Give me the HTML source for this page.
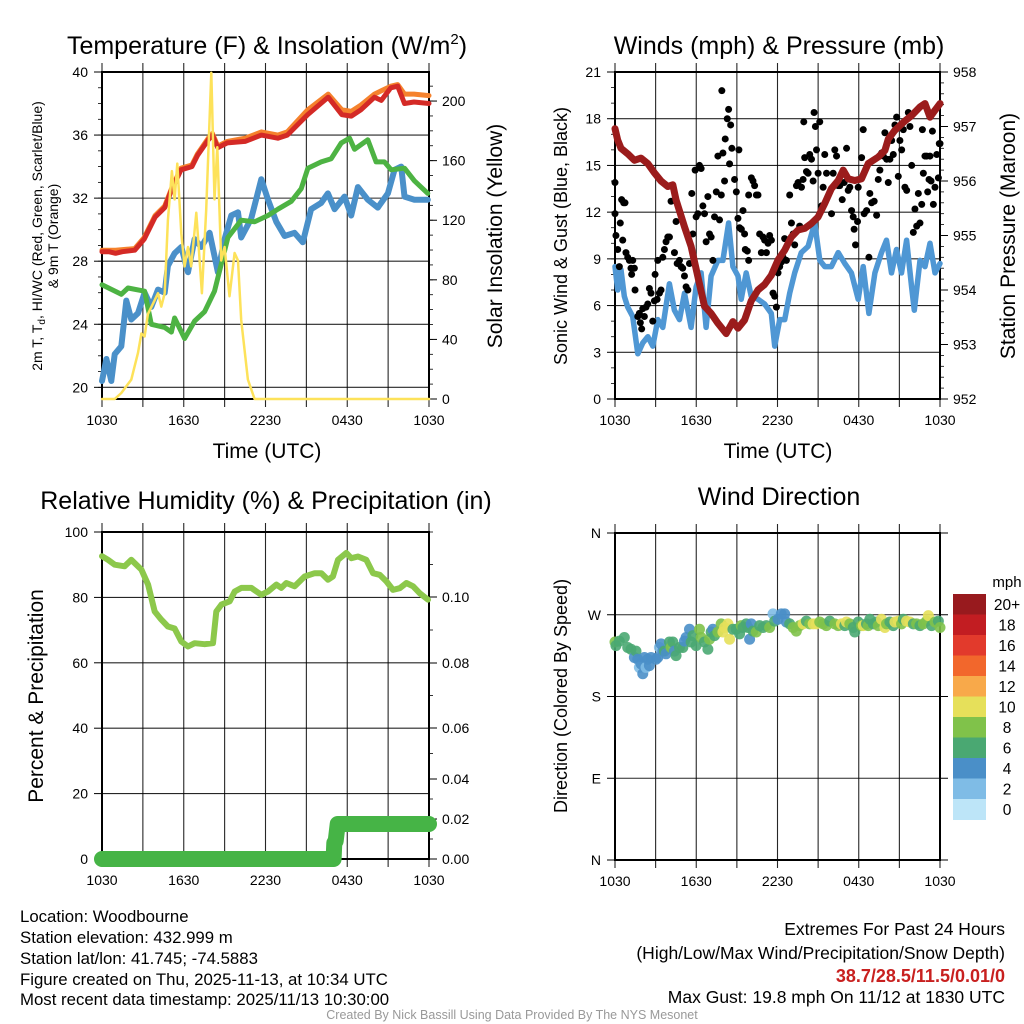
<!DOCTYPE html>
<html><head><meta charset="utf-8"><style>
html,body{margin:0;padding:0;background:#fff;}
svg{display:block;font-family:"Liberation Sans",Arial,sans-serif;}
</style></head><body>
<svg id="root" width="1024" height="1024" viewBox="0 0 1024 1024" xmlns="http://www.w3.org/2000/svg">
<rect width="1024" height="1024" fill="#fff"/>
<g id="p1"></g>
<g id="p2"></g>
<g id="p3"></g>
<g id="p4"></g>

<text x="267" y="54" font-size="25" text-anchor="middle">Temperature (F) &amp; Insolation (W/m<tspan dy="-10" font-size="15">2</tspan><tspan dy="10">)</tspan></text>
<text x="779" y="54" font-size="25" text-anchor="middle">Winds (mph) &amp; Pressure (mb)</text>
<text x="266" y="509" font-size="25" text-anchor="middle">Relative Humidity (%) &amp; Precipitation (in)</text>
<text x="779" y="505" font-size="25" text-anchor="middle">Wind Direction</text>

<text x="267" y="458" font-size="21" text-anchor="middle">Time (UTC)</text>
<text x="778" y="458" font-size="21" text-anchor="middle">Time (UTC)</text>

<text transform="translate(42,236) rotate(-90)" font-size="14" text-anchor="middle">2m T, T<tspan dy="3" font-size="10">d</tspan><tspan dy="-3">, HI/WC (Red, Green, Scarlet/Blue)</tspan></text>
<text transform="translate(58,236) rotate(-90)" font-size="14" text-anchor="middle">&amp; 9m T (Orange)</text>
<text transform="translate(502,236) rotate(-90)" font-size="21" text-anchor="middle">Solar Insolation (Yellow)</text>
<text transform="translate(567,236) rotate(-90)" font-size="18" text-anchor="middle">Sonic Wind &amp; Gust (Blue, Black)</text>
<text transform="translate(1015,236) rotate(-90)" font-size="21" text-anchor="middle">Station Pressure (Maroon)</text>
<text transform="translate(43,696) rotate(-90)" font-size="21" text-anchor="middle">Percent &amp; Precipitation</text>
<text transform="translate(567,696) rotate(-90)" font-size="18" text-anchor="middle">Direction (Colored By Speed)</text>

<g font-size="16.8">
<text x="20" y="922">Location: Woodbourne</text>
<text x="20" y="943">Station elevation: 432.999 m</text>
<text x="20" y="964">Station lat/lon: 41.745; -74.5883</text>
<text x="20" y="985">Figure created on Thu, 2025-11-13, at 10:34 UTC</text>
<text x="20" y="1005">Most recent data timestamp: 2025/11/13 10:30:00</text>
</g>
<g font-size="17.5" text-anchor="end">
<text x="1005" y="935">Extremes For Past 24 Hours</text>
<text x="1005" y="959">(High/Low/Max Wind/Precipitation/Snow Depth)</text>
<text x="1005" y="982" fill="#c8201f" font-weight="bold" font-size="18">38.7/28.5/11.5/0.01/0</text>
<text x="1005" y="1003">Max Gust: 19.8 mph On 11/12 at 1830 UTC</text>
</g>
<text x="512" y="1019" font-size="12.5" fill="#999" text-anchor="middle">Created By Nick Bassill Using Data Provided By The NYS Mesonet</text>
</svg>
<script>
// ---------- data ----------
const xTickLabels = ["1030","1630","2230","0430","1030"];
const xTickHours = [0,6,12,18,24];
const tempTicks = [20,24,28,32,36,40];
const solarTicks = [0,40,80,120,160,200];
const windTicks = [0,3,6,9,12,15,18,21];
const presTicks = [952,953,954,955,956,957,958];
const rhTicks = [0,20,40,60,80,100];
const precipTicks = [0,0.02,0.04,0.06,0.08,0.10];
const dirTicks = [0,90,180,270,360];
const dirLabels = ["N","E","S","W","N"];
const cbLabels = ["0","2","4","6","8","10","12","14","16","18","20+"];
const cbColors = ["#bde5f8","#7fbce6","#4a8fc8","#4aa872","#80c24a","#e6e05a","#f8a94a","#f2672c","#e23a2c","#c21d22","#981a1e"];

const redT = [0,0.5,1,1.5,2.4,3.1,3.9,4.6,5.1,5.8,6.6,7.0,7.8,8.1,8.5,9.2,10.5,11.7,12.9,13.6,15.1,16.6,17.6,18.3,19.0,20.0,20.5,21.2,21.7,22.2,22.9,24];
const redV = [28.6,28.6,28.5,28.6,28.7,29.4,30.8,31.4,32.5,33.8,34.0,34.7,35.7,36.0,35.2,35.5,35.6,36.0,35.8,36.0,37.3,38.4,37.3,37.2,37.6,38.4,38.2,39.0,39.1,38.0,38.1,38.0];
const orangeT = [0,1,2.4,3.1,3.9,4.6,5.1,5.8,6.6,7.0,7.8,8.1,8.5,9.2,10.5,11.7,12.9,13.6,15.1,16.6,17.6,18.3,19.0,20.0,21.2,21.7,22.2,22.9,24];
const orangeV = [28.7,28.7,28.8,29.5,30.9,31.5,32.6,33.9,34.1,34.8,35.8,36.1,35.3,35.6,35.8,36.2,36.0,36.2,37.6,38.6,37.6,37.5,37.9,38.6,39.1,39.2,38.6,38.6,38.5];
const greenT = [0,1.42,1.91,3.13,3.62,4.6,5.09,5.33,6.06,6.8,7.53,8.26,8.75,9.24,10.22,11.2,12.18,12.91,13.89,14.62,15.11,16.09,16.82,17.56,18.17,18.53,19.51,20.12,20.73,21.22,22.2,22.93,23.91];
const greenV = [26.5,25.9,26.3,26.1,24.0,23.8,23.5,24.4,23.1,24.2,24.8,26.1,27.8,29.5,30.6,30.5,30.9,31.3,31.8,32.6,33.9,34.3,34.5,35.5,35.8,35.1,35.7,34.3,34.3,33.8,33.9,33.1,32.3];
const blueT = [0,0.32,0.68,0.93,1.42,1.78,2.15,2.64,3.13,3.62,4.11,4.6,4.84,5.33,5.82,6.31,6.8,7.29,7.9,8.51,9.0,9.49,9.98,10.22,10.95,11.69,12.18,12.79,13.4,14.13,14.74,15.35,16.09,16.58,17.07,17.8,18.29,18.78,19.51,20.24,20.98,21.47,21.96,22.2,22.93,23.91];
const blueV = [20.4,21.8,20.4,22.1,22.6,25.5,24.3,24.7,26.0,25.1,26.2,26.0,27.7,28.5,28.9,27.3,29.4,28.9,29.8,27.3,29.4,30.9,31.1,29.5,30.7,33.2,31.9,30.5,29.6,29.8,29.2,31.3,31.7,32.3,31.3,32.1,30.9,32.7,31.9,31.4,32.3,33.8,34.0,32.1,31.9,31.9];
const solarT = [0,0.93,1.42,2.15,2.64,2.89,3.13,3.37,3.74,4.11,4.35,4.6,4.84,5.13,5.33,5.53,5.82,6.06,6.31,6.55,6.92,7.33,7.65,8.02,8.26,8.46,8.75,9.0,9.36,9.73,9.98,10.22,10.71,11.2,24];
const solarV = [0,0,4,13,31,44,42,57,64,71,62,71,120,153,134,158,111,89,102,89,125,71,127,219,134,169,93,102,69,98,93,53,13,0,0];

const presT = [0,0.2,0.44,0.94,1.43,1.92,2.42,2.91,3.4,3.9,4.27,4.51,5.13,5.62,6.12,6.61,7.1,7.6,8.21,8.71,9.08,9.57,10.06,10.56,11.05,11.54,12.04,12.53,13.02,13.52,14.01,14.5,15.0,15.49,15.98,16.48,16.85,17.22,17.71,18.2,18.7,19.44,19.93,20.18,20.67,21.41,21.9,22.52,22.89,23.26,23.63,24];
const presV = [956.96,956.75,956.6,956.5,956.38,956.42,956.32,956.15,956.0,955.9,955.93,955.65,955.16,954.8,954.24,953.7,953.57,953.39,953.2,953.42,953.3,953.45,953.8,954.0,954.1,954.27,954.55,954.73,954.97,955.1,955.13,955.22,955.34,955.59,955.86,956.01,956.2,956.04,956.01,956.04,956.32,956.44,956.56,956.77,956.93,957.1,957.2,957.36,957.42,957.17,957.3,957.42];
const windT = [0,0.2,0.44,0.69,0.94,1.31,1.68,2.05,2.42,2.79,3.16,3.53,4.02,4.39,4.76,5.13,5.62,5.99,6.36,6.73,7.1,7.6,7.97,8.39,8.71,9.08,9.32,9.69,10.06,10.56,11.05,11.54,11.79,12.16,12.53,12.9,13.27,13.76,14.26,14.75,15.12,15.49,15.98,16.48,16.97,17.46,17.96,18.33,18.75,19.19,19.68,20.05,20.42,20.79,21.16,21.53,21.9,22.1,22.52,22.89,23.26,23.63,24];
const windV = [8.5,7.0,8.3,6.6,5.9,5.3,2.9,3.6,4.0,3.4,5.1,4.6,7.4,5.7,5.1,6.8,4.6,7.2,8.1,4.6,7.9,8.9,8.9,11.3,8.5,7.9,6.4,8.1,6.6,6.4,6.1,5.5,3.4,5.1,5.1,6.8,8.1,9.4,9.8,11.3,8.9,8.5,8.5,9.4,8.7,8.1,6.4,8.5,5.5,8.1,9.4,10.2,8.1,9.6,8.1,10.2,7.2,5.7,8.9,8.5,10.0,8.1,8.7];
const gustT = [0,0,0.07,0.2,0.32,0.39,0.49,0.64,0.74,0.57,0.81,0.94,1.06,1.18,1.31,1.23,1.43,1.48,1.68,1.8,1.87,1.97,2.05,2.17,2.29,2.42,2.54,2.66,2.79,2.91,2.96,3.11,3.16,3.28,3.4,3.53,3.65,3.77,3.9,4.02,4.14,4.39,4.51,4.59,4.76,4.88,5.0,5.13,5.25,5.38,5.5,5.67,5.75,5.92,5.99,6.12,6.24,6.36,6.49,6.61,6.73,6.86,6.98,7.1,7.23,7.35,7.48,7.6,7.72,7.85,7.97,7.89,8.09,8.14,8.29,8.39,8.46,8.54,8.63,8.83,8.96,9.08,9.15,9.2,9.33,9.45,9.57,9.62,9.77,9.87,9.87,10.07,10.19,10.31,10.44,10.56,10.68,10.81,10.93,11.05,11.18,11.3,11.42,11.55,11.67,11.79,11.92,12.04,12.16,12.29,12.41,12.53,12.66,12.9,13.03,13.15,13.27,13.4,13.52,13.64,13.77,13.89,13.94,14.01,14.14,14.26,14.38,14.51,14.63,14.7,14.8,14.88,15.0,15.12,15.25,15.37,15.49,15.62,15.99,16.11,16.23,16.36,16.48,16.6,16.78,16.92,17.1,17.22,17.34,17.47,17.59,17.66,17.76,17.91,17.96,18.21,18.33,18.4,18.58,18.75,18.82,18.95,19.14,19.32,19.44,19.56,19.69,19.81,19.93,20.06,20.18,20.3,20.43,20.55,20.67,20.8,20.92,21.04,21.17,21.29,21.41,21.54,21.66,21.78,21.91,22.03,22.15,22.28,22.4,22.52,22.65,22.7,22.77,22.89,23.02,23.09,23.19,23.26,23.34,23.44,23.51,23.63,23.76,23.88,23.95,24];
const gustV = [13.9,11.9,10.5,9.6,8.5,11.3,12.8,12.6,12.6,10.2,9.4,9.1,8.9,8.4,8.9,8.0,8.4,7.0,5.3,5.5,4.9,4.5,5.8,5.3,5.9,6.1,7.1,6.8,5.0,6.3,8.0,6.4,8.9,6.8,7.0,9.1,9.6,10.1,10.4,10.4,12.7,9.4,11.4,8.7,8.9,8.5,8.4,7.9,7.2,7.0,8.7,13.2,10.6,14.7,11.7,11.9,15.0,14.8,12.4,11.9,10.1,13.0,10.6,10.4,8.9,11.7,13.3,15.6,11.5,13.1,15.8,19.8,14.0,16.7,18.0,18.6,15.1,17.6,16.1,14.1,13.3,11.6,16.0,11.0,10.9,12.1,10.6,9.6,9.5,8.9,13.1,14.2,14.0,13.7,13.1,13.1,10.6,9.4,10.4,10.2,9.4,10.0,10.5,10.2,6.8,6.6,5.9,8.1,8.5,8.8,9.1,10.3,8.9,13.1,11.3,10.6,9.9,13.7,13.9,11.1,13.6,14.1,17.8,15.5,14.6,14.5,15.7,15.4,14.0,18.4,17.5,16.0,14.5,17.8,12.4,13.6,15.7,14.5,11.9,14.5,16.0,15.6,13.7,13.7,12.8,13.9,16.1,13.4,13.6,12.1,11.7,10.9,9.9,11.4,13.6,15.5,17.3,11.9,12.1,9.1,13.2,12.6,12.7,11.8,14.1,14.7,15.8,15.6,17.1,15.4,13.9,15.4,16.6,15.7,17.6,18.1,14.3,16.6,16.0,17.3,13.6,13.4,18.4,17.5,15.0,10.7,12.2,11.1,13.2,11.3,12.5,17.3,14.5,15.6,15.6,13.3,14.1,15.6,14.0,17.2,12.5,13.6,15.7,14.2,16.4,16.4];

const rhT = [0,0.44,0.93,1.66,2.15,2.89,3.38,3.87,4.35,4.84,5.33,5.82,6.31,6.8,7.54,8.15,8.39,8.76,9.37,9.74,10.23,10.96,11.69,12.18,12.8,13.16,13.53,14.14,14.87,15.61,16.1,16.59,16.95,17.32,17.93,18.3,18.79,19.4,19.89,20.38,20.87,21.36,21.85,22.34,22.83,23.31,23.93];
const rhV = [92.6,91.5,90,89.5,91.5,88.5,83.9,75.7,73.2,71.1,70.5,66.5,65,66,65.7,66,75.7,77.8,78.8,81.8,82.9,82.9,80.8,81.8,83.9,82.9,84.4,83.4,86.4,87.4,87.4,85.4,86.4,91.5,93.6,92,92.5,91.5,87.4,86.9,84.9,82.3,82.8,84.4,83.4,81.3,79.3];
const precipT = [0,17.0,17.05,17.15,17.3,17.45,24];
const precipV = [0,0,0.008,0.009,0.0175,0.0175,0.0175];

const dirT = [0,0.07,0.32,0.69,0.94,1.18,1.43,1.55,1.68,1.8,1.92,2.05,2.17,2.29,2.42,2.54,2.66,3.03,3.16,3.28,3.4,3.53,3.65,3.77,4.02,4.14,4.27,4.39,4.51,4.76,5.01,5.13,5.25,5.5,5.62,5.75,5.99,6.24,6.36,6.61,6.86,6.98,7.1,7.23,7.35,7.6,7.84,7.97,8.09,8.34,8.46,8.71,8.95,9.2,9.32,9.45,9.69,9.82,9.94,10.06,10.19,10.43,10.68,10.93,11.17,11.42,11.67,11.79,12.04,12.28,12.53,12.65,12.9,13.15,13.39,13.64,13.89,14.13,14.38,14.63,14.87,15.12,15.37,15.61,15.86,16.23,16.48,16.72,16.97,17.09,17.34,17.59,17.71,17.96,18.2,18.33,18.57,18.7,18.82,19.07,19.31,19.44,19.68,19.93,20.05,20.3,20.55,20.67,20.92,21.16,21.29,21.53,21.78,22.03,22.27,22.52,22.77,23.01,23.14,23.38,23.63,23.88,24];
const dirV = [240,236,241,245,234,232,223,230,221,212,216,205,223,212,221,214,223,221,223,234,238,230,230,227,240,234,240,230,225,234,234,241,245,254,240,247,236,254,245,240,232,243,251,254,247,251,260,251,256,260,243,254,254,249,258,256,260,256,243,260,252,251,258,256,258,256,271,263,265,271,271,262,260,256,252,258,260,263,260,260,260,262,260,258,263,260,258,260,258,262,260,256,251,262,258,258,260,258,265,260,262,258,265,256,260,262,258,262,263,260,265,263,262,260,260,258,260,263,269,258,262,263,256];
const dirS = [9,7,7,7,7,7,5,7,5,3,5,5,5,3,5,5,5,5,5,3,5,5,7,5,7,9,7,5,7,7,7,5,5,5,7,7,7,9,9,7,7,9,7,5,7,9,9,11,11,11,11,7,7,7,9,7,7,7,5,5,7,9,7,7,7,9,3,7,5,5,5,5,7,9,9,9,11,7,9,11,11,9,9,9,7,9,9,11,7,11,9,7,7,7,9,11,7,9,7,7,7,9,11,11,9,7,7,11,11,9,7,11,11,7,9,7,9,9,11,7,9,7,9];

// ---------- helpers ----------
const NS = "http://www.w3.org/2000/svg";
function mk(parent, tag, attrs){const e=document.createElementNS(NS,tag);for(const k in attrs)e.setAttribute(k,attrs[k]);parent.appendChild(e);return e;}
function lin(d0,d1,r0,r1){return v=>r0+(v-d0)*(r1-r0)/(d1-d0);}
function pw(vals,pix){return v=>{for(let i=0;i<vals.length-1;i++){if(v<=vals[i+1]||i===vals.length-2){return pix[i]+(v-vals[i])*(pix[i+1]-pix[i])/(vals[i+1]-vals[i]);}}};}
function pathD(ts,vs,xf,yf){return ts.map((t,i)=>(i?"L":"M")+xf(t).toFixed(1)+","+yf(vs[i]).toFixed(1)).join("");}

function frame(g,L,R,T,B,name){
  const xf=lin(0,24,L,R);
  for(let h=0;h<=24;h+=3){
    const x=xf(h);
    const gl=mk(g,"line",{x1:x,x2:x,y1:T-9,y2:B+8,stroke:"#000","stroke-width":1.1,"stroke-opacity":0.85});
    
    
  }
  for(let i=0;i<xTickHours.length;i++){
    const tx=mk(g,"text",{x:xf(xTickHours[i]),y:B+26,"font-size":14,"text-anchor":"middle"});
    tx.textContent=xTickLabels[i];
    
    
  }
  const br=mk(g,"rect",{x:L,y:T,width:R-L,height:B-T,fill:"none",stroke:"#000","stroke-width":2});
  
  
  return xf;
}
function yaxis(g,L,R,ticks,labels,yf,side,name,grid,minorStep,lo,hi){
  ticks.forEach((v,i)=>{
    const y=yf(v);
    if(grid){const gl=mk(g,"line",{x1:L,x2:R,y1:y,y2:y,stroke:"#000","stroke-width":1.1,"stroke-opacity":0.85});
      
      }
    const x0=side==="left"?L:R, dx=side==="left"?-8:8;
    const tk=mk(g,"line",{x1:x0,x2:x0+dx,y1:y,y2:y,stroke:"#000","stroke-width":1});
    
    
    const tx=mk(g,"text",{x:side==="left"?L-14:R+13,y:y+5,"font-size":14,"text-anchor":side==="left"?"end":"start"});
    tx.textContent=labels[i];
    
    
  });
  if(minorStep){
    for(let v=lo;v<=hi+1e-9;v+=minorStep){
      const y=yf(v);const x0=side==="left"?L:R,dx=side==="left"?-4:4;
      const mt=mk(g,"line",{x1:x0,x2:x0+dx,y1:y,y2:y,stroke:"#000","stroke-width":0.8});
      
      
    }
  }
}
function series(g,ts,vs,xf,yf,color,w,name,op){
  const p=mk(g,"path",{d:pathD(ts,vs,xf,yf),fill:"none",stroke:color,"stroke-width":w,"stroke-linejoin":"round","stroke-linecap":"round","stroke-opacity":op||1});
  
  
  return p;
}

// ---------- panel 1 ----------
(function(){
  const g=document.getElementById("p1");
  const L=102,R=429,T=72,B=399;
  const xf=frame(g,L,R,T,B,"p1");
  const yT=lin(19.26,40,B,T), yS=lin(0,219.5,B,T);
  yaxis(g,L,R,tempTicks,tempTicks.map(String),yT,"left","p1-temp",true,1,20,40);
  yaxis(g,L,R,solarTicks,solarTicks.map(String),yS,"right","p1-solar",false,10,0,210);
  series(g,blueT,blueV,xf,yT,"#4a90c9",6,"dewpoint-line");
  series(g,greenT,greenV,xf,yT,"#4db343",5,"dewpoint-green-line");
  series(g,orangeT,orangeV,xf,yT,"#f5822d",5,"temp-9m-line");
  series(g,redT,redV,xf,yT,"#d42a26",5,"temp-2m-line");
  series(g,solarT,solarV,xf,yS,"#fde25a",2.5,"insolation-line");
})();

// ---------- panel 2 ----------
(function(){
  const g=document.getElementById("p2");
  const L=615,R=940,T=72,B=399;
  const xf=frame(g,L,R,T,B,"p2");
  const yW=lin(0,21,B,T), yP=lin(952,958,B,T);
  yaxis(g,L,R,windTicks,windTicks.map(String),yW,"left","p2-wind",true,1,0,21);
  yaxis(g,L,R,presTicks,presTicks.map(String),yP,"right","p2-pres",false,0.2,952,958);
  series(g,windT,windV,xf,yW,"#4f97d4",5.5,"wind-speed-line");
  gustT.forEach((t,i)=>{
    const c=mk(g,"circle",{cx:xf(t),cy:yW(gustV[i]),r:3.5,fill:"#000"});
    
    
  });
  series(g,presT,presV,xf,yP,"#9b1c1c",7,"pressure-line");
})();

// ---------- panel 3 ----------
(function(){
  const g=document.getElementById("p3");
  const L=102,R=429,T=532,B=859;
  const xf=frame(g,L,R,T,B,"p3");
  const yR=lin(0,100,B,T);
  const yPr=pw([0,0.02,0.04,0.06,0.08,0.10,0.12],[859,819,779,728,663,597,532]);
  yaxis(g,L,R,rhTicks,rhTicks.map(String),yR,"left","p3-rh",true,null);
  yaxis(g,L,R,precipTicks,precipTicks.map(v=>v.toFixed(2)),yPr,"right","p3-precip",false,0.01,0,0.12);
  series(g,rhT,rhV,xf,yR,"#8cc84b",6,"humidity-line");
  series(g,precipT,precipV,xf,yPr,"#46b446",16,"precip-line");
})();

// ---------- panel 4 ----------
(function(){
  const g=document.getElementById("p4");
  const L=615,R=940,T=533,B=860;
  const xf=frame(g,L,R,T,B,"p4");
  const yD=lin(0,360,B,T);
  yaxis(g,L,R,dirTicks,dirLabels,yD,"left","p4-dir",true,null);
  dirTicks.forEach(v=>{const y=yD(v);const t=mk(g,"line",{x1:R,x2:R+8,y1:y,y2:y,stroke:"#000"});
    
    });
  function col(s){let i=Math.floor(s/2);if(i>10)i=10;return cbColors[i];}
  dirT.forEach((t,i)=>{
    const c=mk(g,"circle",{cx:xf(t),cy:yD(dirV[i]),r:5.5,fill:col(dirS[i]),"fill-opacity":0.9});
    
    
  });
  const cx=953,cw=33,ctop=594,ch=20.5;
  const u=mk(g,"text",{x:1007,y:587,"font-size":15,"text-anchor":"middle"});
  u.textContent="mph";
  
  
  cbColors.forEach((c,i)=>{
    const k=10-i;
    const r=mk(g,"rect",{x:cx,y:ctop+i*ch,width:cw,height:ch+0.5,fill:cbColors[k]});
    
    
    const tx=mk(g,"text",{x:1007,y:ctop+i*ch+16,"font-size":15.5,"text-anchor":"middle"});
    tx.textContent=cbLabels[k];
    
    
  });
})();
</script>
</body></html>
